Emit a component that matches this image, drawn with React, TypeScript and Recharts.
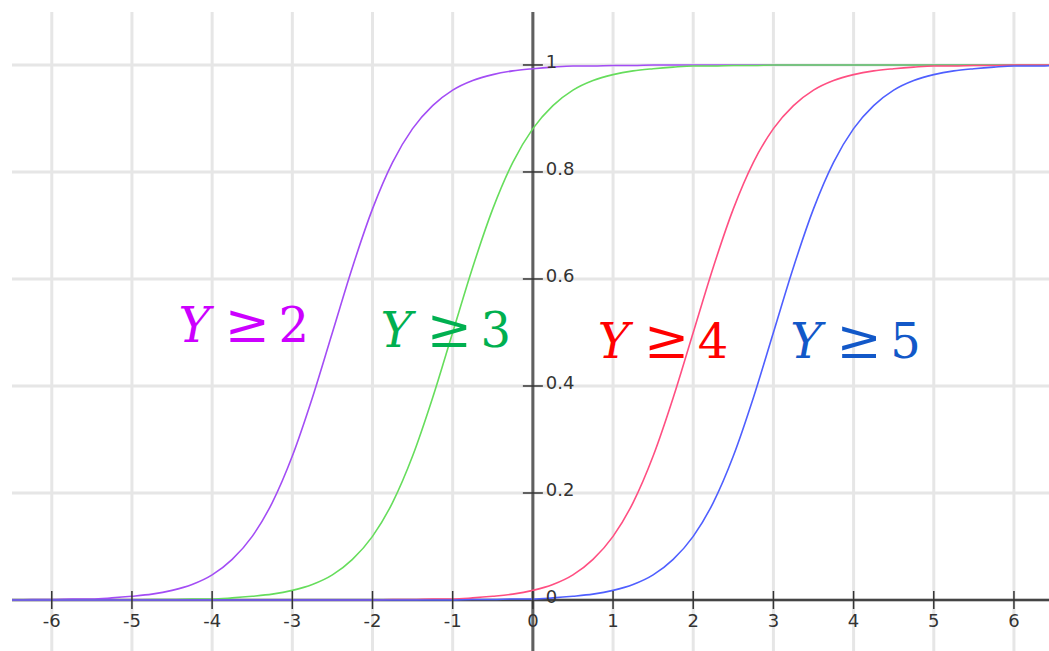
import React from 'react';
import { LineChart, Line, XAxis, YAxis, ReferenceLine, ReferenceDot } from 'recharts';

// x positions sampled along the axis
const xValues = [
  -6.5, -6.25, -6, -5.75, -5.5, -5.25, -5, -4.75, -4.5, -4.25, -4, -3.75, -3.5, -3.25, -3, -2.75,
  -2.5, -2.25, -2, -1.75, -1.5, -1.25, -1, -0.75, -0.5, -0.25, 0, 0.25, 0.5, 0.75, 1, 1.25, 1.5,
  1.75, 2, 2.25, 2.5, 2.75, 3, 3.25, 3.5, 3.75, 4, 4.25, 4.5, 4.75, 5, 5.25, 5.5, 5.75, 6, 6.25, 6.5,
];

// P(Y >= k) curves
const yGe2 = [
  0.0, 0.001, 0.001, 0.002, 0.002, 0.004, 0.007, 0.011, 0.018, 0.029,
  0.047, 0.076, 0.119, 0.182, 0.269, 0.378, 0.5, 0.622, 0.731, 0.818,
  0.881, 0.924, 0.953, 0.971, 0.982, 0.989, 0.993, 0.996, 0.998, 0.998,
  0.999, 0.999, 1, 1, 1, 1, 1, 1, 1, 1, 1, 1, 1, 1, 1, 1, 1, 1, 1, 1, 1, 1, 1,
];
const yGe3 = [
  0, 0, 0, 0, 0, 0,
  0.0, 0.001, 0.001, 0.002, 0.002, 0.004, 0.007, 0.011, 0.018, 0.029,
  0.047, 0.076, 0.119, 0.182, 0.269, 0.378, 0.5, 0.622, 0.731, 0.818,
  0.881, 0.924, 0.953, 0.971, 0.982, 0.989, 0.993, 0.996, 0.998, 0.998,
  0.999, 0.999, 1, 1, 1, 1, 1, 1, 1, 1, 1, 1, 1, 1, 1, 1, 1,
];
const yGe4 = [
  0, 0, 0, 0, 0, 0, 0, 0, 0, 0, 0, 0, 0, 0, 0, 0, 0, 0,
  0.0, 0.001, 0.001, 0.002, 0.002, 0.004, 0.007, 0.011, 0.018, 0.029,
  0.047, 0.076, 0.119, 0.182, 0.269, 0.378, 0.5, 0.622, 0.731, 0.818,
  0.881, 0.924, 0.953, 0.971, 0.982, 0.989, 0.993, 0.996, 0.998, 0.998,
  0.999, 0.999, 1, 1, 1,
];
const yGe5 = [
  0, 0, 0, 0, 0, 0, 0, 0, 0, 0, 0, 0, 0, 0, 0, 0, 0, 0, 0, 0, 0, 0,
  0.0, 0.001, 0.001, 0.002, 0.002, 0.004, 0.007, 0.011, 0.018, 0.029,
  0.047, 0.076, 0.119, 0.182, 0.269, 0.378, 0.5, 0.622, 0.731, 0.818,
  0.881, 0.924, 0.953, 0.971, 0.982, 0.989, 0.993, 0.996, 0.998, 0.998,
  0.999,
];

const xTicks = [-6, -5, -4, -3, -2, -1, 0, 1, 2, 3, 4, 5, 6];
const yTicks = [0, 0.2, 0.4, 0.6, 0.8, 1];
const yTickLabels = ['0', '0.2', '0.4', '0.6', '0.8', '1'];

const curveNames = ['2', '3', '4', '5'];
const labelX = [-4.42, -1.9, 0.81, 3.21];
const labelY = [0.482, 0.473, 0.452, 0.452];

const lineColors = ['#a34df5', '#66dd5c', '#ff4f82', '#4f5fff'];
const labelColors = ['#cc00ff', '#00b050', '#ff0000', '#1258c8'];

const data = xValues.map((x, i) => ({
  x,
  ge2: yGe2[i],
  ge3: yGe3[i],
  ge4: yGe4[i],
  ge5: yGe5[i],
}));

const keys = ['ge2', 'ge3', 'ge4', 'ge5'];

const tickFont = "'DejaVu Sans', sans-serif";
const axisColor = '#606060';

export default function App() {
  return (
    <div style={{ position: 'absolute', left: 0, top: 0, background: '#fff' }}>
      <LineChart width={1049} height={651} data={data} margin={{ top: 12, right: 0, bottom: 0, left: 12 }}>
        <XAxis type="number" dataKey="x" domain={[-6.496, 6.437]} allowDataOverflow hide />
        <YAxis type="number" domain={[-0.0953, 1.099]} allowDataOverflow hide />

        {xTicks.map((t) => (
          <ReferenceLine key={`gx${t}`} x={t} stroke="#e6e6e6" strokeWidth={3} />
        ))}
        {yTicks.map((t) => (
          <ReferenceLine key={`gy${t}`} y={t} stroke="#e6e6e6" strokeWidth={3} />
        ))}

        <ReferenceLine x={0} stroke={axisColor} strokeWidth={3} />
        <ReferenceLine y={0} stroke="#444" strokeWidth={2.5} />

        {xTicks.map((t) => (
          <ReferenceDot
            key={`tx${t}`}
            x={t}
            y={0}
            shape={(p: any) => (
              <g>
                <line x1={p.cx} x2={p.cx} y1={p.cy - 9} y2={p.cy + 9} stroke="#333" strokeWidth={1.5} />
                <text x={p.cx} y={p.cy + 27} textAnchor="middle" fontFamily={tickFont} fontSize={18} fill="#333">
                  {String(t)}
                </text>
              </g>
            )}
          />
        ))}
        {yTicks.map((t, i) => (
          <ReferenceDot
            key={`ty${t}`}
            x={0}
            y={t}
            shape={(p: any) => (
              <g>
                {t !== 0 && (
                  <line x1={p.cx - 10} x2={p.cx + 10} y1={p.cy} y2={p.cy} stroke="#333" strokeWidth={1.5} />
                )}
                <text x={p.cx + 13} y={p.cy + 3} textAnchor="start" fontFamily={tickFont} fontSize={18} fill="#333">
                  {yTickLabels[i]}
                </text>
              </g>
            )}
          />
        ))}

        {keys.map((k, i) => (
          <Line
            key={k}
            type="monotone"
            dataKey={k}
            stroke={lineColors[i]}
            strokeWidth={1.6}
            dot={false}
            activeDot={false}
            isAnimationActive={false}
          />
        ))}

        {curveNames.map((n, i) => (
          <ReferenceDot
            key={`lab${n}`}
            x={labelX[i]}
            y={labelY[i]}
            shape={(p: any) => (
              <text x={p.cx} y={p.cy} fill={labelColors[i]} fontFamily="'DejaVu Serif', serif" fontSize={48}>
                <tspan fontStyle="italic">Y</tspan>
                <tspan x={p.cx + 46} fontSize={54}>≥</tspan>
                <tspan x={p.cx + 100}>{n}</tspan>
              </text>
            )}
          />
        ))}
      </LineChart>
    </div>
  );
}
